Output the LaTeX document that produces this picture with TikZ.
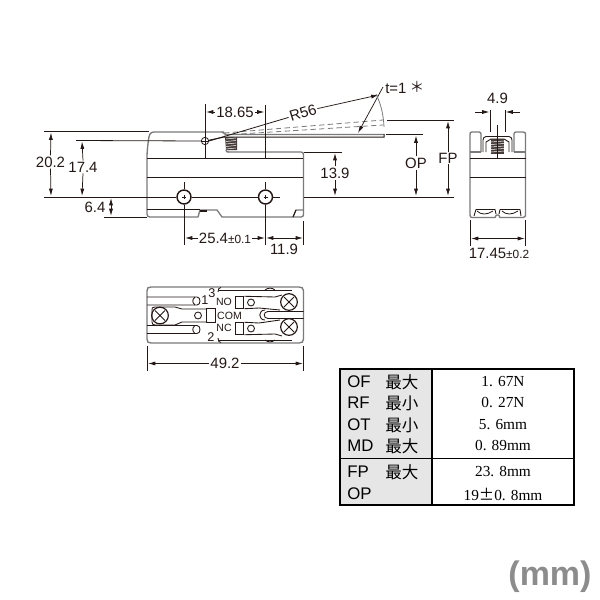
\documentclass[tikz,border=0pt]{standalone}
\usepackage{fontspec}
\setmainfont{Liberation Sans}
\newfontfamily\cjk{Noto Sans CJK JP}
\newfontfamily\serifv{Liberation Serif}
\usetikzlibrary{arrows.meta}
\definecolor{ink}{HTML}{231815}
\definecolor{bodyg}{HTML}{7A7A7A}
\definecolor{cellg}{HTML}{E6E6E6}
\definecolor{mmg}{HTML}{8C8C8C}
\tikzset{
  dim/.style={draw=ink,line width=0.55pt,{Latex[length=5.5pt,width=3pt]}-{Latex[length=5.5pt,width=3pt]}},
  ptr/.style={draw=ink,line width=0.55pt,-{Latex[length=5.5pt,width=3pt]}},
  ext/.style={draw=ink,line width=0.6pt},
  outl/.style={draw=bodyg,line width=1pt,line join=round},
  blk/.style={draw=ink,line width=0.75pt},
  det/.style={draw=ink,line width=0.65pt,line join=round},
  lab/.style={text=ink,font=\fontsize{11.2}{12}\selectfont,inner sep=0.8pt},
  tag/.style={text=ink,font=\fontsize{7.9}{9}\selectfont,inner sep=0.3pt},
  num/.style={text=ink,font=\fontsize{9.5}{10}\selectfont,inner sep=0.3pt},
  tl/.style={text=black,font=\fontsize{12.6}{13}\selectfont,anchor=west,inner sep=0pt},
  tc/.style={text=black,font=\cjk\fontsize{12.4}{13}\selectfont,anchor=west,inner sep=0pt},
  tv/.style={text=black,font=\serifv\fontsize{11.5}{13}\selectfont,inner sep=0pt},
  hole/.style={draw=ink,line width=1.1pt,circle,minimum size=10.5pt,inner sep=0pt},
  pin/.style={draw=ink,line width=.65pt,circle,minimum size=5.2pt,inner sep=0pt},
  screw/.style={draw=ink,line width=.85pt,circle,minimum size=12.5pt,inner sep=0pt},
  term/.style={draw=ink,line width=.85pt,rectangle,minimum width=6.5pt,minimum height=8.5pt,inner sep=0pt},
}
\begin{document}
\begin{tikzpicture}[x=0.75pt,y=-0.75pt]
\useasboundingbox (0,0) rectangle (600,600);
\fill[white] (0,0) rectangle (600,600);

% --- side view: body
\draw[outl] (224,132) -- (154,132) .. controls (150,132) and (149,135) .. (148.5,140) .. controls (147.5,147) and (147,152) .. (147,158) -- (147,214) .. controls (147,216) and (148,217) .. (150,217) -- (198,217) -- (200,210) -- (217,210) -- (222,217) -- (301,217) .. controls (303,217) and (303.5,216) .. (303.5,214) -- (303.5,155) .. controls (303.5,153) and (303,152) .. (301,152) -- (228,152);
\draw[blk] (147,158) -- (303,158);
\draw[blk] (147,177) -- (303,177);
\draw[ext] (147,209) -- (200,209);
\fill[ink] (200,210) rectangle (207,212);
\draw[bodyg,line width=.8pt] (293,217) -- (296,210) -- (303,210);
\draw[ink,line width=.8pt] (293,217) -- (296,210);
% lever
\draw[bodyg,line width=1pt] (222,132) -- (226,134.5) -- (384,134.5);
\draw[blk] (208,140.5) -- (224,137) -- (384,137) -- (384,134);
\draw[bodyg,line width=.6pt,dash pattern=on 4pt off 2.5pt] (224,133) -- (383,120);
\draw[bodyg,line width=.6pt,dash pattern=on 4pt off 2.5pt] (224,135) -- (383,125);
% plunger spring
\fill[ink!85] (225,137) -- (237,137) -- (237,150) -- (226,150) -- cycle;
\foreach \yy in {139,141.5,144,146.5,149}{\draw[white,line width=.4pt] (226,\yy) -- (236,\yy-1);}
\draw[outl] (226,150) .. controls (226,152) and (227,152) .. (229,152);
% pivot + screw holes
\node[draw=ink,line width=.6pt,circle,fill=white,minimum size=5.5pt,inner sep=0pt] (pivot) at (205,141) {};
\draw[ink,line width=.4pt] (202,141) -- (208,141) (205,138) -- (205,144);
\node[hole] (holea) at (184,197) {};
\node[hole] (holeb) at (265.5,197) {};
\draw[ink,line width=.4pt] (182,197) -- (186,197) (184,195) -- (184,199) (263.5,197) -- (267.5,197) (265.5,195) -- (265.5,199);

% extension lines
\draw[ext] (44,131.5) -- (149,131.5);
\draw[ext] (76,140.5) -- (pivot.west);
\draw[ext] (44,197) -- (holea.west) (holea.east) -- (holeb.west) (holeb.east) -- (280,197);
\draw[ext] (104,217) -- (147,217);
\draw[ext] (205,104) -- (pivot.north) (pivot.south) -- (205,158);
\draw[ext] (265.5,105) -- (265.5,158);
\draw[ext] (184,182) -- (holea.north) (holea.south) -- (184,245);
\draw[ext] (265.5,182) -- (holeb.north) (holeb.south) -- (265.5,245);
\draw[ext] (303.5,221) -- (303.5,245);
\draw[ext] (304,152) -- (342,152);
\draw[ext] (304,197) -- (454,197);
\draw[ext] (387,120) -- (454,120);
\draw[ext] (386,134.5) -- (423,134.5);

% dims (side)
\node[lab] (d202) at (50.5,162) {20.2};
\draw[ptr] (d202.north) -- (51,132.5);
\draw[ptr] (d202.south) -- (51,196);
\node[lab] (d174) at (83,167) {17.4};
\draw[ptr] (d174.south) -- (82,196);
\draw[ptr] (d174.north) -- (82,141.5);
\node[lab] (d64) at (95,207) {6.4};
\draw[dim] (111,198) -- (111,216);
\node[lab] (d1865) at (235,112) {18.65};
\draw[ptr] (d1865.west) -- (206,112);
\draw[ptr] (d1865.east) -- (264.5,112);
\node[lab,rotate=17] (r56) at (303,113) {R56};
\draw[ext] (pivot.east) -- (r56.west);
\draw[ptr] (r56.east) -- (378.5,95);
\node[lab] (d139) at (335,173) {13.9};
\draw[ptr] (d139.north) -- (335,153);
\draw[ptr] (d139.south) -- (335,196);
\node[anchor=west,text=ink,font=\fontsize{11.2}{12}\selectfont,inner sep=0pt] (t1) at (385,88) {t=1};
\node[anchor=center,text=ink,font=\cjk\fontsize{11}{12}\selectfont,inner sep=0pt] (star) at (417,87) {＊};
\coordinate (tick) at (383,87);
\coordinate (tip) at (358,133);
\draw[ptr] (tick) -- (tip);
\draw[bodyg,line width=.6pt] (376,94) .. controls (381,104) and (383.5,115) .. (384,127);
\node[lab] (op) at (416,163) {OP};
\draw[ptr] (op.north) -- (416,135.5);
\draw[ptr] (op.south) -- (416,196);
\node[lab] (fp) at (448,158) {FP};
\draw[ptr] (fp.north) -- (448,121);
\draw[ptr] (fp.south) -- (448,196);
\node[lab] (d254) at (225,238) {25.4{\fontsize{8.9}{9}\selectfont ±0.1}};
\draw[ptr] (d254.west) -- (185,238);
\draw[ptr] (d254.east) -- (265,238);
\node[lab] (d119) at (284,249) {11.9};
\draw[dim] (266,238) -- (303,238);

% --- end view
\draw[outl] (481,152) -- (481,134) .. controls (481,133) and (480,132) .. (479,132) -- (472,132) .. controls (470,132) and (470,133) .. (470,135) -- (470,215);
\draw[outl] (514,152) -- (514,134) .. controls (514,133) and (515,132) .. (516,132) -- (523,132) .. controls (525.5,132) and (525.5,133) .. (525.5,135) -- (525.5,215);
\draw[outl] (481,152) -- (470,152) (514,152) -- (525.5,152);
\draw[det] (483,152) -- (483,140) .. controls (483,138) and (484,137) .. (486,136.5) -- (509,136.5) .. controls (511,137) and (512,138) .. (512,140) -- (512,152);
\draw[det] (486,152) -- (486,142) -- (491,139) -- (504,139) -- (509,142) -- (509,152);
\fill[ink!85] (491,139) rectangle (504,154);
\foreach \yy in {142,144.5,147,149.5,152}{\draw[white,line width=.4pt] (491,\yy) -- (504,\yy-1);}
\draw[blk] (470,158) -- (525.5,158);
\draw[blk] (470,177) -- (525.5,177);
\draw[outl] (470,215) .. controls (470,217) and (471,217.5) .. (472,217.5) -- (495,217.5) .. controls (496,214) and (499,214) .. (500,217.5) -- (523,217.5) .. controls (525,217.5) and (525.5,216) .. (525.5,215);
\draw[det] (474,216) -- (476,209.5) -- (495,209.5) -- (496,214);
\draw[det] (499,214) -- (500,209.5) -- (520,209.5) -- (521,216);
\draw[ink,line width=.6pt] (477,211) .. controls (481,215) and (487,215) .. (493,211);
\draw[ink,line width=.6pt] (502,211) .. controls (506,215) and (512,215) .. (518,211);
\draw[ink,line width=.6pt] (497.5,125) -- (497.5,158);
\draw[ext] (490,110) -- (490,132) (505,110) -- (505,132);
\draw[ptr] (475,112) -- (489.5,112);
\draw[ptr] (520,112) -- (505.5,112);
\node[lab] (d49) at (497.5,98) {4.9};
\draw[ext] (470.5,220) -- (470.5,246) (525.5,220) -- (525.5,246);
\draw[dim] (471,238.5) -- (525,238.5);
\node[lab] (d1745) at (499,253) {17.45{\fontsize{8.9}{9}\selectfont ±0.2}};

% --- bottom view
\draw[outl] (151,287) -- (299,287) .. controls (302,287) and (303.5,288) .. (303.5,291) -- (303.5,339) .. controls (303.5,342) and (302,343) .. (299,343) -- (151,343) .. controls (148,343) and (147,342) .. (147,339) -- (147,291) .. controls (147,288) and (148,287) .. (151,287) -- cycle;
% left contacts
\draw[det] (147,297) -- (197,297) .. controls (201,297) and (201,305) .. (197,305) -- (147,305);
\draw[det] (195,297) .. controls (192,300) and (192,302) .. (195,305);
\draw[det] (147,325.5) -- (197,325.5) .. controls (201,325.5) and (201,333.5) .. (197,333.5) -- (147,333.5);
\draw[det] (195,325.5) .. controls (192,328) and (192,331) .. (195,333.5);
\fill[white] (150,306) rectangle (178,324.5);
\draw[det] (207,309) -- (182,309) -- (175,307) -- (155,307) .. controls (152,307) and (152,308) .. (152,310) -- (152,322) .. controls (152,324) and (153,325) .. (155,325) -- (175,325) -- (182,322) -- (207,322);
\node[pin] (lc) at (198,315.5) {};
\node[term,minimum height=10pt] (cbox) at (211,315.5) {};
\node[screw] (sl) at (160,315.5) {};
\draw[det] (155,310.5) -- (165,320.5) (155,320.5) -- (165,310.5);
% right contacts
\node[term] (nobox) at (239.5,302.5) {};
\node[pin] (noc) at (251,302.5) {};
\node[term] (ncbox) at (239.5,328.5) {};
\node[pin] (ncc) at (251,328.5) {};
\node[screw] (sr1) at (289,302) {};
\draw[det] (284,297) -- (294,307) (284,307) -- (294,297);
\node[screw] (sr2) at (289,327) {};
\draw[det] (284,322) -- (294,332) (284,332) -- (294,322);
\draw[det] (nobox.north east) -- (275,297) -- (282,295);
\draw[det] (nobox.south east) -- (259,308) -- (280,310);
\draw[det] (ncbox.north east) -- (259,323) -- (280,320);
\draw[det] (ncbox.south east) -- (275,334) -- (282,336);
\draw[det] (303.5,311.5) -- (268,311.5) .. controls (263,311.5) and (263,318.5) .. (268,318.5) -- (303.5,318.5);
\draw[det] (265,310) .. controls (258,310) and (258,320) .. (265,320);
\draw[det] (218,292) .. controls (218,289) and (219,287.5) .. (221,287.5);
\draw[det] (218,338) .. controls (218,341) and (219,342.5) .. (221,342.5);
\draw[det] (219,290) -- (292,290) (219,340) -- (292,340);
\draw[det] (265,290) .. controls (268,287.5) and (272,287.5) .. (275,290);
\draw[det] (265,340) .. controls (268,342.5) and (272,342.5) .. (275,340);
\node[num] (n1) at (205,300) {1};
\node[num] (n3) at (212,293) {3};
\node[num] (n2) at (211,337) {2};
\node[tag] (no) at (224,302) {NO};
\node[tag] (com) at (229.5,315.5) {COM};
\node[tag] (nc) at (224,327.5) {NC};
% 49.2 dim
\draw[ext] (147,346) -- (147,371) (303.5,346) -- (303.5,371);
\node[lab] (d492) at (225,363.5) {49.2};
\draw[ptr] (d492.west) -- (148,363.5);
\draw[ptr] (d492.east) -- (303,363.5);

% --- table
\fill[cellg] (339,368) rectangle (432,505.5);
\draw[black,line width=1.5pt] (339.5,368.5) rectangle (573.5,505);
\draw[black,line width=1.3pt] (432,368) -- (432,505.5);
\draw[black,line width=.7pt] (339.5,458.5) -- (574.5,458.5);
\foreach \nm/\yy/\tx/\cj/\val in {a/382/OF/最大/1. 67N,b/403/RF/最小/0. 27N,c/425/OT/最小/5. 6mm,d/446/MD/最大/0. 89mm,e/472/FP/最大/23. 8mm}{
  \node[tl] (t\nm) at (347,\yy) {\tx};
  \node[tc] (c\nm) at (385,\yy) {\cj};
  \node[tv] (v\nm) at (503,\yy) {\val};
}
\node[tl] (tf) at (347,494) {OP};
\node[tv] (vf) at (503,494) {19{\cjk ±}0. 8mm};
\node[text=mmg,font=\bfseries\fontsize{25.5}{26}\selectfont,inner sep=0pt] (mm) at (550,577) {(mm)};
\end{tikzpicture}
\end{document}
